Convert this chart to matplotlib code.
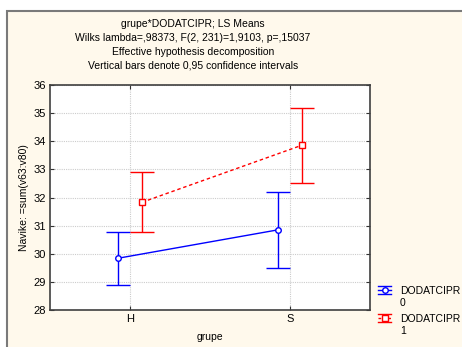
import matplotlib
matplotlib.use("Agg")
import matplotlib.pyplot as plt
from matplotlib.patches import Rectangle
from matplotlib.lines import Line2D
import numpy as np

plt.rcParams['font.family'] = ['Liberation Sans', 'DejaVu Sans']

categories = ["H", "S"]
groups = ["0", "1"]
means_0 = [29.84, 30.85]
lower_0 = [28.89, 29.51]
upper_0 = [30.76, 32.21]
means_1 = [31.83, 33.86]
lower_1 = [30.79, 32.51]
upper_1 = [32.90, 35.18]
yticks = [28, 29, 30, 31, 32, 33, 34, 35, 36]
title_lines = ["grupe*DODATCIPR; LS Means",
               "Wilks lambda=,98373, F(2, 231)=1,9103, p=,15037",
               "Effective hypothesis decomposition",
               "Vertical bars denote 0,95 confidence intervals"]

W, H = 462, 347
fig = plt.figure(figsize=(W / 100, H / 100), dpi=100, facecolor='white')
cream = '#FFF9EC'
bg = fig.add_axes([0, 0, 1, 1], zorder=-10)
bg.set_xlim(0, W); bg.set_ylim(H, 0); bg.axis('off')
bg.add_patch(Rectangle((7, 11), W + 20, H + 20, facecolor=cream, edgecolor='#7a7a7a', linewidth=1.5))

ax = fig.add_axes([50 / W, 1 - 310 / H, 320 / W, 225 / H], zorder=1)
ax.set_facecolor('white')
x = np.arange(len(categories))
off = 0.075
blue = '#0000FF'
red = '#FF0000'

m0 = np.array(means_0); m1 = np.array(means_1)
ax.errorbar(x - off, m0, yerr=[m0 - np.array(lower_0), np.array(upper_0) - m0],
            color=blue, lw=1.0, capsize=8.5, capthick=1.0, marker='o', ms=4,
            mfc='white', mec=blue, mew=1.0, zorder=3)
ax.errorbar(x + off, m1, yerr=[m1 - np.array(lower_1), np.array(upper_1) - m1],
            color=red, lw=1.0, capsize=8.5, capthick=1.0, marker='s', ms=4,
            mfc='white', mec=red, mew=1.0, zorder=3, ls=(0, (2.5, 2)))

ax.set_xlim(-0.5, 1.5)
ax.set_ylim(28, 36)
ax.set_yticks(yticks)
ax.set_xticks(x)
ax.set_xticklabels(categories)
ax.grid(True, color='#cccccc', linestyle=(0, (1, 1)), linewidth=0.8)
ax.set_axisbelow(True)
ax.tick_params(direction='in', length=3, width=0.8, labelsize=8, colors='#333333',
               top=True, right=True, pad=3)
for t in ax.get_xticklabels() + ax.get_yticklabels():
    t.set_color('black')
for s in ax.spines.values():
    s.set_color('#404040')
    s.set_linewidth(1.2)

ax.set_xlabel('grupe', fontsize=7.5, labelpad=6)
ax.set_ylabel('Navike: =sum(v63:v80)', fontsize=7.5, labelpad=3)

for i, line in enumerate(title_lines):
    fig.text(193 / W, 1 - (24 + i * 14) / H, line, ha='center', va='center', fontsize=7.5)

# legend
def leg(y, color, marker, ls, label, grp):
    x0, x1 = 378, 391
    xm = (x0 + x1) / 2
    bg.add_line(Line2D([x0, x1], [y - 4, y - 4], color=color, lw=1))
    bg.add_line(Line2D([x0, x1], [y + 4, y + 4], color=color, lw=1))
    bg.add_line(Line2D([x0, x1], [y, y], color=color, lw=1, ls=ls))
    bg.add_line(Line2D([xm], [y], color=color, marker=marker, ms=4, mfc='white', mec=color))
    bg.text(400, y + 1, label, fontsize=7.5, va='center', ha='left')
    bg.text(400, y + 13, grp, fontsize=7.5, va='center', ha='left')

leg(290, blue, 'o', '-', 'DODATCIPR', groups[0])
leg(318, red, 's', (0, (2, 1.5)), 'DODATCIPR', groups[1])

fig.savefig('out.png', dpi=100, facecolor=fig.get_facecolor())
